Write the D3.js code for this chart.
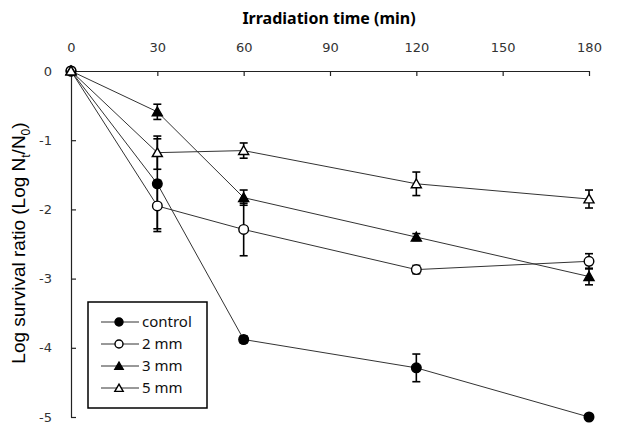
<!DOCTYPE html>
<html>
<head>
<meta charset="utf-8">
<script src="https://cdn.jsdelivr.net/npm/d3@7"></script>
<style>
  body { margin: 0; background: #fff; }
  text { font-family: "Noto Sans", "DejaVu Sans", sans-serif; }
</style>
</head>
<body>
<div id="vis"></div>
<script>
const FRAME_WIDTH = 623;
const FRAME_HEIGHT = 428;

// data
const times = [0, 30, 60, 120, 180];
const xTicks = [0, 30, 60, 90, 120, 150, 180];
const yTicks = [0, -1, -2, -3, -4, -5];
const seriesNames = ["control", "2 mm", "3 mm", "5 mm"];
const controlVals = [0, -1.63, -3.88, -4.29, -5.0];
const controlErr = [0, 0.65, 0.05, 0.2, 0];
const mm2Vals = [0, -1.95, -2.29, -2.87, -2.75];
const mm2Err = [0, 0.37, 0.38, 0.06, 0.11];
const mm3Vals = [0, -0.59, -1.83, -2.40, -2.97];
const mm3Err = [0, 0.11, 0.11, 0.05, 0.12];
const mm5Vals = [0, -1.18, -1.15, -1.63, -1.85];
const mm5Err = [0, 0.24, 0.11, 0.17, 0.13];

const series = [
  {name: seriesNames[0], vals: controlVals, err: controlErr, shape: "circle", fill: "#000"},
  {name: seriesNames[1], vals: mm2Vals, err: mm2Err, shape: "circle", fill: "#fff"},
  {name: seriesNames[2], vals: mm3Vals, err: mm3Err, shape: "triangle", fill: "#000"},
  {name: seriesNames[3], vals: mm5Vals, err: mm5Err, shape: "triangle", fill: "#fff"}
];

const svg = d3.select("#vis")
  .append("svg")
    .attr("width", FRAME_WIDTH)
    .attr("height", FRAME_HEIGHT);

const xScale = d3.scaleLinear().domain([0, 180]).range([71, 589]);
const yScale = d3.scaleLinear().domain([-5, 0]).range([417, 71]);

// axes
const xAxis = svg.append("g")
  .attr("transform", "translate(0," + yScale(0) + ")")
  .call(d3.axisTop(xScale).tickValues(xTicks).tickSizeInner(-5).tickSizeOuter(0).tickPadding(19));
xAxis.selectAll("text").attr("font-size", 13).attr("fill", "#333")
  .style("font-family", "'DejaVu Sans', sans-serif");

const yAxis = svg.append("g")
  .attr("transform", "translate(" + xScale(0) + ",0)")
  .call(d3.axisLeft(yScale).tickValues(yTicks).tickSizeInner(-5).tickSizeOuter(0).tickPadding(19)
    .tickFormat(d => String(d)));
yAxis.selectAll("text").attr("font-size", 13).attr("fill", "#333")
  .style("font-family", "'DejaVu Sans', sans-serif");

svg.selectAll(".domain, .tick line").attr("stroke", "#222").attr("stroke-width", 1.2);

// titles
svg.append("text")
  .attr("x", 329).attr("y", 24)
  .attr("text-anchor", "middle")
  .attr("font-size", 16).attr("font-weight", "bold")
  .text("Irradiation time (min)");

const yTitle = svg.append("text")
  .attr("transform", "translate(25,243) rotate(-90)")
  .attr("text-anchor", "middle")
  .attr("font-size", 19)
  .style("font-family", "'Liberation Sans', Arial, sans-serif");
yTitle.append("tspan").text("Log survival ratio (Log N");
yTitle.append("tspan").attr("font-size", 12).attr("dy", 5).text("t");
yTitle.append("tspan").attr("dy", -5).text("/N");
yTitle.append("tspan").attr("font-size", 12).attr("dy", 5).text("0");
yTitle.append("tspan").attr("dy", -5).text(")");

// lines
const line = d3.line()
  .x((d, i) => xScale(times[i]))
  .y(d => yScale(d));

svg.selectAll(".series-line")
  .data(series)
  .enter()
  .append("path")
    .attr("class", "series-line")
    .attr("d", d => line(d.vals))
    .attr("fill", "none")
    .attr("stroke", "#333")
    .attr("stroke-width", 1);

// error bars
series.forEach(s => {
  const g = svg.append("g");
  s.vals.forEach((v, i) => {
    if (!s.err[i]) return;
    const x = xScale(times[i]);
    const y1 = yScale(v + s.err[i]);
    const y2 = yScale(v - s.err[i]);
    g.append("line").attr("x1", x).attr("x2", x).attr("y1", y1).attr("y2", y2)
      .attr("stroke", "#000").attr("stroke-width", 1.6);
    [y1, y2].forEach(yy => {
      g.append("line").attr("x1", x - 4).attr("x2", x + 4).attr("y1", yy).attr("y2", yy)
        .attr("stroke", "#000").attr("stroke-width", 1.6);
    });
  });
});

function drawMarker(g, shape, fill, x, y, r) {
  if (shape === "circle") {
    g.append("circle").attr("cx", x).attr("cy", y).attr("r", r)
      .attr("fill", fill).attr("stroke", "#000").attr("stroke-width", 1.4);
  } else {
    g.append("path").attr("d", d3.symbol().type(d3.symbolTriangle).size(r * r * 1.9))
      .attr("transform", "translate(" + x + "," + (y + 1) + ")")
      .attr("fill", fill).attr("stroke", "#000").attr("stroke-width", 1.4);
  }
}

// markers
series.forEach(s => {
  const g = svg.append("g");
  s.vals.forEach((v, i) => drawMarker(g, s.shape, s.fill, xScale(times[i]), yScale(v), 4.8));
});

// legend
const legend = svg.append("g");
legend.append("rect")
  .attr("x", 88).attr("y", 302).attr("width", 119).attr("height", 106)
  .attr("fill", "#fff").attr("stroke", "#000").attr("stroke-width", 1.5);
series.forEach((s, i) => {
  const ly = 322 + i * 22;
  legend.append("line").attr("x1", 101).attr("x2", 139).attr("y1", ly).attr("y2", ly)
    .attr("stroke", "#333").attr("stroke-width", 1);
  drawMarker(legend, s.shape, s.fill, 119, ly, 4);
  legend.append("text").attr("x", 142).attr("y", ly + 5)
    .attr("font-size", 15).attr("fill", "#111").text(s.name);
});
</script>
</body>
</html>
